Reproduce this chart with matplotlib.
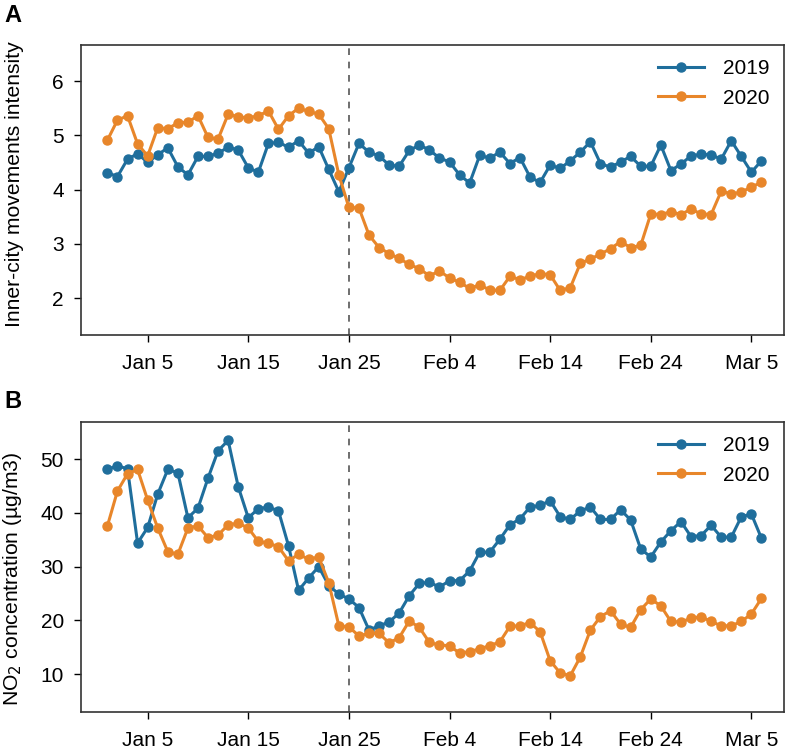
import pandas as pd
import matplotlib
matplotlib.use("Agg")
import matplotlib.pyplot as plt

plt.rcParams['font.family'] = ['Liberation Sans', 'DejaVu Sans']
plt.rcParams['font.size'] = 15

dates = pd.date_range('2020-01-01', periods=66, freq='D')
tick_dates = pd.date_range('2020-01-05', '2020-03-05', freq='10D')
event_date = pd.Timestamp('2020-01-25')

move_2019 = [4.31, 4.24, 4.56, 4.66, 4.50, 4.64, 4.77, 4.42, 4.27, 4.61,
             4.61, 4.67, 4.78, 4.73, 4.40, 4.32, 4.85, 4.87, 4.78, 4.90,
             4.67, 4.79, 4.37, 3.96, 4.40, 4.85, 4.69, 4.62, 4.45, 4.43,
             4.72, 4.82, 4.73, 4.58, 4.51, 4.27, 4.12, 4.63, 4.58, 4.69,
             4.48, 4.59, 4.23, 4.13, 4.45, 4.39, 4.53, 4.69, 4.88, 4.48,
             4.41, 4.51, 4.61, 4.43, 4.43, 4.82, 4.35, 4.47, 4.62, 4.65,
             4.64, 4.56, 4.90, 4.61, 4.32, 4.53]
move_2020 = [4.91, 5.28, 5.36, 4.84, 4.62, 5.14, 5.12, 5.23, 5.24, 5.36,
             4.96, 4.93, 5.39, 5.34, 5.32, 5.36, 5.45, 5.11, 5.36, 5.50,
             5.44, 5.39, 5.12, 4.27, 3.67, 3.66, 3.16, 2.93, 2.82, 2.73,
             2.62, 2.54, 2.41, 2.50, 2.37, 2.29, 2.18, 2.24, 2.15, 2.14,
             2.40, 2.34, 2.40, 2.45, 2.43, 2.14, 2.19, 2.64, 2.72, 2.81,
             2.91, 3.04, 2.93, 2.97, 3.55, 3.54, 3.59, 3.54, 3.64, 3.55,
             3.54, 3.97, 3.92, 3.95, 4.05, 4.13]

no2_2019 = [48.1, 48.8, 48.2, 34.4, 37.3, 43.5, 48.1, 47.5, 39.1, 40.9,
            46.5, 51.6, 53.5, 44.9, 39.1, 40.8, 41.1, 40.4, 33.9, 25.6,
            27.9, 30.0, 26.5, 24.9, 24.0, 22.4, 18.2, 19.0, 19.7, 21.4,
            24.6, 26.9, 27.1, 26.2, 27.4, 27.4, 29.2, 32.7, 32.7, 35.1,
            37.8, 38.9, 41.1, 41.4, 42.3, 39.3, 38.8, 40.4, 41.1, 38.8,
            38.8, 40.6, 38.7, 33.3, 31.8, 34.6, 36.7, 38.4, 35.6, 35.8,
            37.7, 35.5, 35.5, 39.3, 39.8, 35.3]
no2_2020 = [37.6, 44.1, 47.3, 48.1, 42.4, 37.2, 32.8, 32.3, 37.2, 37.6,
            35.4, 35.9, 37.8, 38.1, 37.2, 34.7, 34.4, 33.7, 31.1, 32.3,
            31.4, 31.8, 27.0, 19.0, 18.8, 17.1, 17.6, 17.6, 15.8, 16.8,
            19.9, 18.7, 15.9, 15.4, 15.3, 13.9, 14.2, 14.7, 15.3, 16.0,
            18.9, 19.0, 19.6, 17.9, 12.5, 10.2, 9.7, 13.2, 18.2, 20.7,
            21.8, 19.3, 18.7, 22.0, 24.0, 22.7, 19.8, 19.7, 20.4, 20.7,
            19.8, 19.0, 19.0, 19.8, 21.2, 24.1]

blue = '#1f6e9c'
orange = '#e8862a'

fig = plt.figure(figsize=(7.9, 7.51), dpi=100)
ax1 = fig.add_axes([0.102, 0.554, 0.890, 0.3865])
ax2 = fig.add_axes([0.102, 0.0523, 0.890, 0.3862])

panels = [
    (ax1, move_2019, move_2020, 'Inner-city movements intensity', (1.32, 6.67), [2, 3, 4, 5, 6], 0.52),
    (ax2, no2_2019, no2_2020, 'NO$_2$ concentration (µg/m3)', (3.0, 57.0), [10, 20, 30, 40, 50], 0.46),
]

for ax, y19, y20, ylabel, ylim, yticks, label_y in panels:
    ax.plot(dates, y19, '-o', color=blue, lw=2.2, ms=6.5, label='2019')
    ax.plot(dates, y20, '-o', color=orange, lw=2.2, ms=6.5, label='2020')
    ax.axvline(event_date, color='#555555', lw=1.2, ls=(0, (4, 4)), zorder=0)
    ax.set_xlim(pd.Timestamp('2019-12-29 08:00'), pd.Timestamp('2020-03-08 05:00'))
    ax.set_ylim(*ylim)
    ax.set_yticks(yticks)
    ax.set_xticks(tick_dates)
    ax.set_xticklabels([f"{d:%b} {d.day}" for d in tick_dates])
    ax.set_ylabel(ylabel, fontsize=15.2)
    ax.yaxis.set_label_coords(-0.08, label_y)
    ax.tick_params(axis='x', direction='out', length=5, width=1, pad=9)
    ax.tick_params(axis='y', direction='out', length=5, width=1, pad=7)
    for sp in ax.spines.values():
        sp.set_linewidth(1.2)
        sp.set_color('#333333')
    ax.legend(loc='upper right', frameon=False, handlelength=2.2,
              handletextpad=0.9, borderaxespad=0.3, labelspacing=0.5)

fig.text(0.006, 0.995, 'A', fontsize=17, fontweight='bold', va='top')
fig.text(0.006, 0.481, 'B', fontsize=17, fontweight='bold', va='top')

fig.savefig('out.png', dpi=100)
